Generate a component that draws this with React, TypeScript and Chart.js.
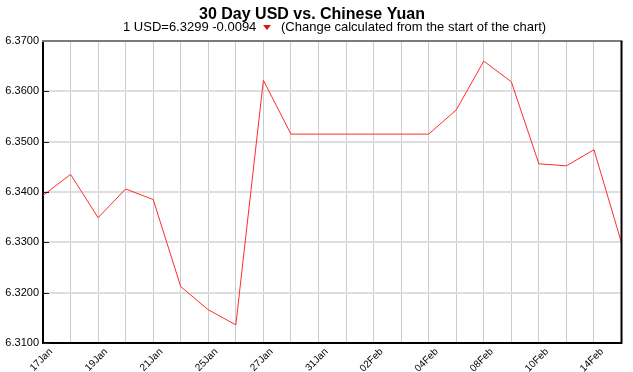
import React, { useEffect, useRef } from "react";
import { Chart, registerables } from "chart.js";

Chart.register(...registerables);

const TITLE = "30 Day USD vs. Chinese Yuan";
const SUB_LEFT = "1 USD=6.3299 -0.0094";
const SUB_RIGHT = "(Change calculated from the start of the chart)";

const dates = [
  "17Jan", "18Jan", "19Jan", "20Jan", "21Jan", "24Jan", "25Jan", "26Jan",
  "27Jan", "28Jan", "31Jan", "01Feb", "02Feb", "03Feb", "04Feb", "07Feb",
  "08Feb", "09Feb", "10Feb", "11Feb", "14Feb", "15Feb",
];

const rates = [
  6.3393, 6.3435, 6.3349, 6.3406, 6.3385, 6.3212, 6.3166, 6.3136,
  6.3622, 6.3515, 6.3515, 6.3515, 6.3515, 6.3515, 6.3515, 6.3563,
  6.3660, 6.3619, 6.3456, 6.3452, 6.3484, 6.3299,
];

const yMin = 6.31;
const yMax = 6.37;
const yStep = 0.01;

const FONT = '"Liberation Sans", Arial, sans-serif';

const decorPlugin = {
  id: "decor",
  afterDraw(chart: any) {
    const { ctx, chartArea } = chart;
    const { left, right, top, bottom } = chartArea;
    ctx.save();
    // inside tick marks on y axis
    const yScale = chart.scales.y;
    ctx.strokeStyle = "#222";
    ctx.lineWidth = 1;
    for (let v = yMin; v <= yMax + 1e-9; v += yStep) {
      const py = Math.round(yScale.getPixelForValue(v)) + 0.5;
      ctx.beginPath();
      ctx.moveTo(left, py);
      ctx.lineTo(left + 6, py);
      ctx.stroke();
    }
    // top border (gray)
    ctx.strokeStyle = "#7a7a7a";
    ctx.lineWidth = 2;
    ctx.beginPath();
    ctx.moveTo(left - 1, top);
    ctx.lineTo(right + 1, top);
    ctx.stroke();
    // right border (black)
    ctx.strokeStyle = "#000";
    ctx.lineWidth = 2;
    ctx.beginPath();
    ctx.moveTo(right, top);
    ctx.lineTo(right, bottom + 1);
    ctx.stroke();

    // title
    ctx.fillStyle = "#000";
    ctx.font = `bold 16px ${FONT}`;
    ctx.textAlign = "center";
    ctx.textBaseline = "alphabetic";
    ctx.fillText(TITLE, 312, 19);

    // subtitle
    ctx.font = `13px ${FONT}`;
    ctx.textAlign = "left";
    ctx.fillText(SUB_LEFT, 123, 31);
    const tx = 263;
    ctx.fillStyle = "#e01010";
    ctx.beginPath();
    ctx.moveTo(tx, 25);
    ctx.lineTo(tx + 8, 25);
    ctx.lineTo(tx + 4, 30);
    ctx.closePath();
    ctx.fill();
    ctx.fillStyle = "#000";
    ctx.fillText(SUB_RIGHT, 281, 31);
    ctx.restore();
  },
};

export default function App() {
  const ref = useRef<HTMLCanvasElement>(null);

  useEffect(() => {
    document.body.style.margin = "0";
    const canvas = ref.current!;
    const chart = new Chart(canvas, {
      type: "line",
      data: {
        labels: dates,
        datasets: [
          {
            data: rates,
            borderColor: "rgb(255,45,45)",
            borderWidth: 1,
            pointRadius: 0,
            tension: 0,
            fill: false,
          },
        ],
      },
      options: {
        responsive: false,
        animation: false,
        devicePixelRatio: 1,
        layout: { padding: { left: 0, right: 11, top: 41, bottom: 0 } },
        plugins: {
          legend: { display: false },
          title: { display: false },
          tooltip: { enabled: false },
        },
        scales: {
          x: {
            type: "category",
            offset: false,
            afterFit(s: any) {
              s.height = 29;
            },
            grid: {
              color: "#cccccc",
              lineWidth: 1,
              drawTicks: false,
            },
            border: { color: "#000", width: 2 },
            ticks: {
              autoSkip: false,
              maxRotation: 45,
              minRotation: 45,
              padding: 3,
              labelOffset: 8,
              color: "#000",
              font: { family: FONT, size: 10 },
              callback: (_v: any, i: number) => (i % 2 === 0 ? dates[i] : ""),
            },
          },
          y: {
            min: yMin,
            max: yMax,
            afterFit(s: any) {
              s.width = 43;
            },
            grid: {
              color: "#dedede",
              lineWidth: 2,
              drawTicks: false,
            },
            border: { color: "#000", width: 2 },
            ticks: {
              stepSize: yStep,
              padding: 4,
              color: "#000",
              font: { family: FONT, size: 11 },
              callback: (v: any) => Number(v).toFixed(4),
            },
          },
        },
      },
      plugins: [decorPlugin],
    });
    return () => chart.destroy();
  }, []);

  return (
    <div style={{ width: 633, height: 372, background: "#fff" }}>
      <canvas ref={ref} width={633} height={372} style={{ display: "block" }} />
    </div>
  );
}
